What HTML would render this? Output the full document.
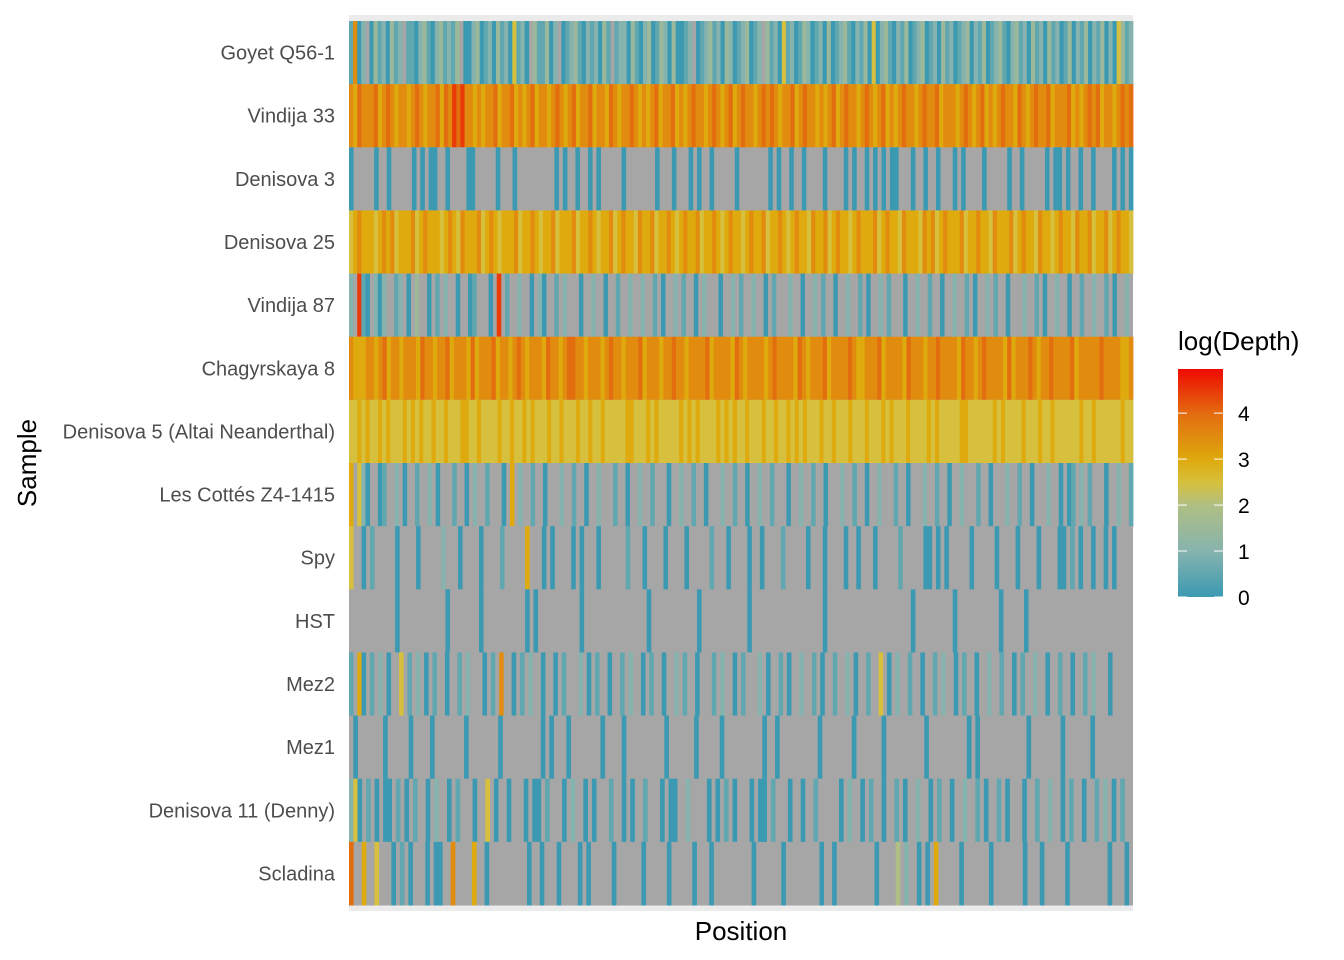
<!DOCTYPE html>
<html><head><meta charset="utf-8">
<style>
body{margin:0;background:#fff;width:1344px;height:960px;overflow:hidden;font-family:"Liberation Sans",sans-serif}
svg{display:block}
</style></head>
<body>
<svg id="chart" width="1344" height="960" xmlns="http://www.w3.org/2000/svg">
<rect x="349" y="15" width="784" height="896" fill="#EBEBEB"/>
<g id="cells"></g>
<g id="ylabels"></g>
<text x="36" y="463" transform="rotate(-90 36 463)" text-anchor="middle" font-size="26" fill="#000">Sample</text>
<text x="741" y="940" text-anchor="middle" font-size="26" fill="#000">Position</text>
<text x="1178" y="350" font-size="26" fill="#000">log(Depth)</text>
<defs><linearGradient id="cg" x1="0" y1="1" x2="0" y2="0">
<stop offset="0" stop-color="#3B9AB2"/><stop offset="0.2" stop-color="#86B3AE"/><stop offset="0.4" stop-color="#AFBF85"/><stop offset="0.5" stop-color="#D6C03E"/><stop offset="0.6" stop-color="#DEAA0E"/><stop offset="0.8" stop-color="#E36E10"/><stop offset="1" stop-color="#EE0A00"/></linearGradient></defs>
<rect x="1178" y="369" width="45" height="228" fill="url(#cg)"/>
<g id="legticks"></g>
</svg>
<script>
const samples=["Goyet Q56-1","Vindija 33","Denisova 3","Denisova 25","Vindija 87","Chagyrskaya 8","Denisova 5 (Altai Neanderthal)","Les Cottés Z4-1415","Spy","HST","Mez2","Mez1","Denisova 11 (Denny)","Scladina"];
// digit d => log depth d*0.5 ; '.' => missing
const rowCodes=[
"1702.03120312.1102310231213.0023012031205120.311302.012310212031.1220310230132030012.0123120320123012.312051201320120301231021305023102130123012031201230213012310231203120312013021302130205312",
"7687778678767767876778687989776767786778676786776787678677867768767787676786778676787767876786787767878767786787767678678776787678676787767877867776787678676787768767877867778676787867767878",
"0.....0..0.....0.0.00..0....00.....0...0.........0.0..0..0.0.....0.......0...0...0.0..0.....0.......0.0..0..0....0....0.0..0.0.0.00...0..0..0...0.0....0.....0..0.....0.00.0..0..0....0.0.0",
"5676665676756667567666567657666756765666756676566756667566765667567665766756676567667566765676656766756676567665766756766567666756766576665767567666756676657666756766576656766576675667567665",
"2.910.202..12.0.3..0.1.2..0..01...0.9.1..2..0.20..1.2...0..2..0..1..2..2..1.0..2.1..0.2...0..2.1..2..0.1...2..0..2.1..0..2..1.0..2.1...0..2..1..0..2..1.0..2.1..0...2..1.0..2..0..1..2..1.0..2.",
"7666776786776777687767786777686777867767876777687767887767776787767778677767787767777867777687677776787777687677786777787667778677776877767787777687767877776867778767787777867777787777667",
"5565655656555656565565565556655655556556556565556556555655655655555665556565555565656555565656556555655655656565556556555655565556565556555565655555665555556565555655565565555556556555555655",
"6.520..01..2.0..1..2.0...1..0.2..1...0.6.2..1..0...2..1..0..2...1..0..2..1...0..2..1..0...2..1..0..2..1...0..2..1..0...2..1..0..2...1..0...2..1..0..2...1..0...2..1..0...2..0.01.2.1...0..2..1",
"5..0.1.....0....0.....2...0....0....1.....6...0.0....0.0...0......1...0....0....0.....1...0....0..0....1.....0...0....0..0...0.....1.....00.0.0.....0.....0....0....0....00.1.0..0..0.0....",
"...........0...........0.......0..........0.0..........0...............0...........0...........0.................0....................0.........0..........0.....0.........................",
"1.60.1.2.0..5.1.2.0.1..0..1.2...0.1.7..0.1.2..0..0.1...2.0.1..0..1.2..0.1..0..2.1..0...1.2..0.1...2.0..1.0..2..1.0..1..2.0..1..5.0.2..1..0..1.2..0.1..0..2..1..0.1..2..0..1..0..1.2...0.....",
".0......0.....0....0.......0.......0.........0.0...0.......0....0.........0......0.....0.........0..0.........0.......0......0.........0.........0.0...........0.......0......0.........",
"250.1.0.00.1.0.1..0.2..0.1...0..5.0..0...0.00.1...0.2..0.0...1..0.0..1...0.00..2....0.0.1.0...0.00.1...0..0..1.....0.2..0.1..0..1.0..2..0.1..0..2..1.0..1.0...0..1..2..0.1..0..1.2.0.1..",
"8..6..5...0.1.0...0.00..7....6..0.........0..0...0....0.0.....0......0.....0.....0...0.........0......0........0..0.........0....4.2..0.0.6.....0......0.......0...0.....0.........0...0."
];
const legendTicks=[0,1,2,3,4];
const vmax=4.96;
const X0=349,X1=1133,Y0=21,Y1=905;
const rowH=(Y1-Y0)/samples.length;
const yPos=r=>Y0+r*rowH;
const stops=[[0,[59,154,178]],[1,[134,179,174]],[2,[175,191,133]],[2.5,[214,192,62]],[3,[222,170,14]],[4,[227,110,16]],[4.96,[238,10,0]]];
function col(v){for(let k=1;k<stops.length;k++){if(v<=stops[k][0]){const a=stops[k-1],b=stops[k],t=(v-a[0])/(b[0]-a[0]);return 'rgb('+a[1].map((c,j)=>Math.round(c+(b[1][j]-c)*t)).join(',')+')';}}return 'rgb(238,10,0)';}
const NS='http://www.w3.org/2000/svg';
const g=document.getElementById('cells');
samples.forEach((s,r)=>{
  const code=rowCodes[r];
  const NC=code.length, colW=(X1-X0)/NC;
  const bg=document.createElementNS(NS,'rect');
  bg.setAttribute('x',X0);bg.setAttribute('y',yPos(r));bg.setAttribute('width',X1-X0);bg.setAttribute('height',rowH+0.5);bg.setAttribute('fill','#A6A6A6');
  
  
  g.appendChild(bg);
  for(let i=0;i<NC;i++){const c=code[i];if(c==='.')continue;
    const rc=document.createElementNS(NS,'rect');
    rc.setAttribute('x',X0+i*colW);rc.setAttribute('y',yPos(r));rc.setAttribute('width',colW+0.4);rc.setAttribute('height',rowH+0.5);rc.setAttribute('fill',col(+c*0.5));
    
    
    g.appendChild(rc);}
  const t=document.createElementNS(NS,'text');
  t.setAttribute('x',335);t.setAttribute('y',yPos(r)+rowH/2+7);t.setAttribute('text-anchor','end');t.setAttribute('font-size','20');t.setAttribute('fill','#4D4D4D');
  t.textContent=s;
  
  
  document.getElementById('ylabels').appendChild(t);
});
const lg=document.getElementById('legticks');
legendTicks.forEach(v=>{
  const y=597-v/vmax*228;
  [1178,1214].forEach(x=>{const l=document.createElementNS(NS,'line');l.setAttribute('x1',x);l.setAttribute('x2',x+9);l.setAttribute('y1',y);l.setAttribute('y2',y);l.setAttribute('stroke','#fff');l.setAttribute('stroke-width','1');
    
    
    lg.appendChild(l);});
  const t=document.createElementNS(NS,'text');t.setAttribute('x',1238);t.setAttribute('y',y+8);t.setAttribute('font-size','21');t.setAttribute('fill','#000');t.textContent=v;
  
  
  lg.appendChild(t);
});
</script>
</body></html>
